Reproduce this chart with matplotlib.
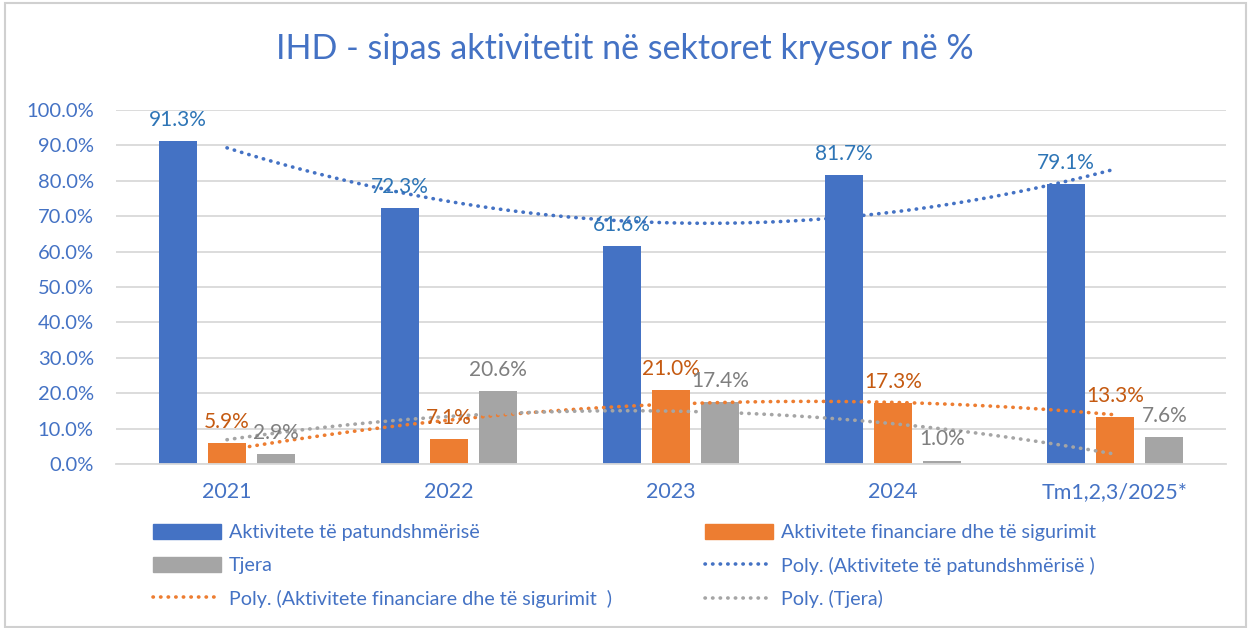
import numpy as np
import matplotlib
matplotlib.use('Agg')
import matplotlib.pyplot as plt
from matplotlib.patches import Rectangle, Patch
from matplotlib.lines import Line2D

plt.rcParams['font.family'] = ['Lato', 'DejaVu Sans']

# Të dhënat
kategorite = ['2021', '2022', '2023', '2024', 'Tm1,2,3/2025*']
patundshmeri = [91.3, 72.3, 61.6, 81.7, 79.1]
financiare = [5.9, 7.1, 21.0, 17.3, 13.3]
tjera = [2.9, 20.6, 17.4, 1.0, 7.6]
y_ticks = [0, 10, 20, 30, 40, 50, 60, 70, 80, 90, 100]

blu = '#4472C4'
portokalli = '#ED7D31'
gri = '#A5A5A5'
tekst_blu = '#4472C4'

fig = plt.figure(figsize=(12.5, 6.28), dpi=100)
ax = fig.add_axes([0.0928, 0.261, 0.888, 0.564])

x = np.arange(len(kategorite))
w = 0.171
off = 0.222
b1 = ax.bar(x - off, patundshmeri, w, color=blu)
b2 = ax.bar(x, financiare, w, color=portokalli)
b3 = ax.bar(x + off, tjera, w, color=gri)

# etiketat e vlerave
for bars, vals, c in [(b1, patundshmeri, '#2E75B6'), (b2, financiare, '#C55A11'), (b3, tjera, '#7F7F7F')]:
    for b, v in zip(bars, vals):
        ax.annotate(f'{v:.1f}%', (b.get_x() + b.get_width() / 2, v),
                    xytext=(0, 8), textcoords='offset points',
                    ha='center', va='bottom', fontsize=15, color=c)

# trendlinjet polinomiale (rendi 2)
xs = np.linspace(0, 4, 100)
for vals, c in [(patundshmeri, blu), (financiare, portokalli), (tjera, gri)]:
    p = np.polyfit(x, vals, 2)
    ax.plot(xs, np.polyval(p, xs), color=c, lw=2.6, linestyle=(0, (0.1, 2.0)),
            dash_capstyle='round')

ax.set_xlim(-0.5, 4.5)
ax.set_ylim(0, 100)
ax.set_yticks(y_ticks)
ax.set_yticklabels([f'{t:.1f}%' for t in y_ticks])
ax.set_xticks(x)
ax.set_xticklabels(kategorite)
ax.tick_params(axis='y', length=0, pad=16, labelsize=14.5, labelcolor=tekst_blu)
ax.tick_params(axis='x', length=0, pad=13, labelsize=15.5, labelcolor=tekst_blu)
ax.grid(axis='y', color='#D9D9D9', lw=1.3)
ax.set_axisbelow(True)
for s in ['top', 'right', 'left']:
    ax.spines[s].set_visible(False)
ax.spines['bottom'].set_color('#D9D9D9')
ax.spines['bottom'].set_linewidth(1.3)

fig.text(0.5, 0.922, 'IHD - sipas aktivitetit në sektoret kryesor në %',
         ha='center', va='center', fontsize=24.5, color=blu)

# legjenda
h = [Patch(color=blu, label='Aktivitete të patundshmërisë'),
     Patch(color=gri, label='Tjera'),
     Line2D([], [], color=portokalli, lw=2.6, linestyle=(0, (0.1, 2.0)), dash_capstyle='round',
            label='Poly. (Aktivitete financiare dhe të sigurimit  )'),
     Patch(color=portokalli, label='Aktivitete financiare dhe të sigurimit'),
     Line2D([], [], color=blu, lw=2.6, linestyle=(0, (0.1, 2.0)), dash_capstyle='round',
            label='Poly. (Aktivitete të patundshmërisë )'),
     Line2D([], [], color=gri, lw=2.6, linestyle=(0, (0.1, 2.0)), dash_capstyle='round',
            label='Poly. (Tjera)')]
leg = fig.legend(handles=h, ncol=2, loc='upper left', bbox_to_anchor=(0.1145, 0.182),
                 frameon=False, fontsize=14.2, handlelength=3.45, handleheight=0.85,
                 handletextpad=0.4, columnspacing=4.7, labelspacing=0.78,
                 labelcolor=tekst_blu, borderpad=0)

fig.patches.append(Rectangle((0.004, 0.002), 0.993, 0.993, transform=fig.transFigure,
                             fill=False, edgecolor='#D0D0D0', lw=1.5))

fig.savefig('out.png', dpi=100)
